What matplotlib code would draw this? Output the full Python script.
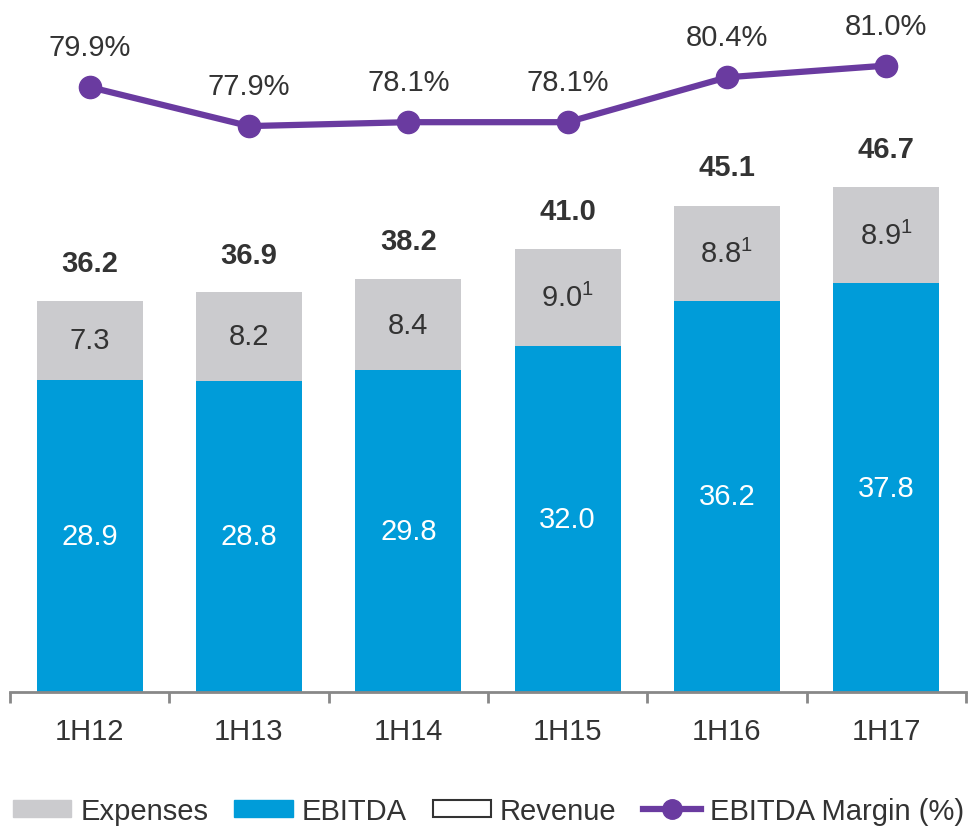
import numpy as np
import matplotlib
matplotlib.use('Agg')
import matplotlib.pyplot as plt
from matplotlib.patches import Patch
from matplotlib.lines import Line2D

plt.rcParams['font.family'] = ['Liberation Sans', 'DejaVu Sans']
plt.rcParams['mathtext.fontset'] = 'custom'
plt.rcParams['mathtext.rm'] = 'Liberation Sans'

# data
periods = ['1H12', '1H13', '1H14', '1H15', '1H16', '1H17']
ebitda = [28.9, 28.8, 29.8, 32.0, 36.2, 37.8]
expenses = [7.3, 8.2, 8.4, 9.0, 8.8, 8.9]
revenue = [36.2, 36.9, 38.2, 41.0, 45.1, 46.7]
margin = [79.9, 77.9, 78.1, 78.1, 80.4, 81.0]
footnote = [False, False, False, True, True, True]

blue = '#009CD9'
grey = '#CBCBCE'
purple = '#6A3BA0'
txt = '#333333'
fs = 21

fig = plt.figure(figsize=(9.77, 8.29), dpi=100)
ax = fig.add_axes([10 / 977, 1 - 693 / 829, 956 / 977, 683 / 829])
x = np.arange(len(periods))
w = 0.667

ax.bar(x, ebitda, w, color=blue, zorder=2)
ax.bar(x, expenses, w, bottom=ebitda, color=grey, zorder=2)

for i in range(len(x)):
    ax.text(x[i], ebitda[i] / 2, '%.1f' % ebitda[i], ha='center', va='center',
            color='white', fontsize=fs)
    lab = '%.1f' % expenses[i]
    if footnote[i]:
        lab = lab + '$^{1}$'
    ax.text(x[i], ebitda[i] + expenses[i] / 2, lab, ha='center', va='center',
            color=txt, fontsize=fs)
    ax.annotate('%.1f' % revenue[i], (x[i], revenue[i]), xytext=(0, 38),
                textcoords='offset pixels', ha='center', va='center',
                fontsize=fs, fontweight='bold', color=txt)

ax.set_xlim(-0.5, 5.5)
ax.set_ylim(0, 63.2)
ax.set_yticks([])
for s in ['top', 'right', 'left']:
    ax.spines[s].set_visible(False)
ax.spines['bottom'].set_color('#888888')
ax.spines['bottom'].set_linewidth(2)
ax.set_xticks(x)
ax.set_xticklabels(periods, fontsize=fs, color=txt)
ax.tick_params(axis='x', length=0, pad=18)
ax.set_xticks(np.arange(-0.5, 6, 1), minor=True)
ax.tick_params(axis='x', which='minor', length=8, width=2, color='#888888')

ax2 = ax.twinx()
ax2.set_ylim(48.9, 83.9)
ax2.plot(x, margin, color=purple, lw=4.5, marker='o', markersize=16, zorder=3)
for i in range(len(x)):
    ax2.annotate('%.1f%%' % margin[i], (x[i], margin[i]), xytext=(0, 40),
                 textcoords='offset pixels', ha='center', va='center',
                 fontsize=fs, color=txt)
ax2.axis('off')

handles = [Patch(facecolor=grey, edgecolor=grey),
           Patch(facecolor=blue, edgecolor=blue),
           Patch(facecolor='white', edgecolor='#333333', linewidth=1.5),
           Line2D([], [], color=purple, lw=4.5, marker='o', markersize=14)]
fig.legend(handles, ['Expenses', 'EBITDA', 'Revenue', 'EBITDA Margin (%)'],
           loc='center', bbox_to_anchor=(0.5, 1 - 812 / 829), ncol=4,
           frameon=False, fontsize=fs, handlelength=2.0, handleheight=0.55,
           handletextpad=0.3, columnspacing=0.9, labelcolor=txt)

fig.savefig('out.png', dpi=100)
